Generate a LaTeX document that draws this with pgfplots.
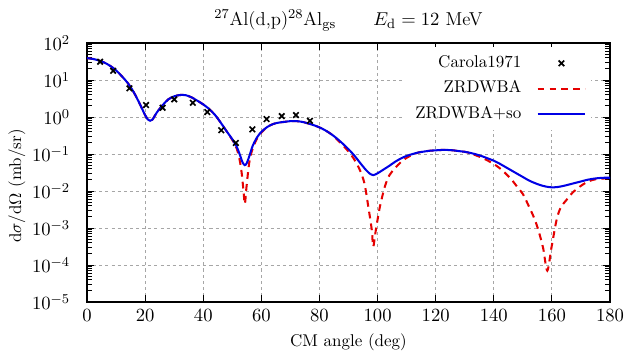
\documentclass[border=0pt]{standalone}
\usepackage{pgfplots}
\pgfplotsset{compat=1.18}
\pgfplotsset{
  lineleg/.style={legend image code/.code={\draw[##1] (0pt,0pt) -- (28pt,0pt);}},
  markleg/.style={legend image code/.code={\draw[##1] plot coordinates {(14pt,0pt)};}},
}
\begin{document}
\begin{tikzpicture}
\begin{axis}[
  scale only axis, width=307.6pt, height=152.4pt,
  at={(0,0)}, anchor=south west,
  xmin=0, xmax=180, ymode=log, ymin=1e-5, ymax=1e2,
  xtick={0,20,...,180}, ytick={1e-5,1e-4,1e-3,1e-2,1e-1,1,10,100},
  axis line style={line width=1pt, black},
  every tick/.style={black, line width=0.6pt},
  grid=major,
  major grid style={gray!70, line width=0.6pt, dash pattern=on 1.8pt off 1.8pt},
  tick label style={font=\fontsize{11}{13}\selectfont},
  xticklabel style={yshift=-1pt},
  yticklabel style={xshift=-6.5pt},
  xlabel={CM angle (deg)},
  xlabel style={at={(axis description cs:0.5,0)}, anchor=base, yshift=-25.9pt},
  ylabel={$\mathrm{d}\sigma/\mathrm{d}\Omega\ (\mathrm{mb/sr})$},
  ylabel style={at={(axis description cs:-0.134,0.448)}, anchor=center},
  title={$^{27}$Al(d,p)$^{28}$Al$_{\mathrm{gs}}$\hspace{2em}$E_{\mathrm{d}}=12$ MeV},
  title style={at={(axis description cs:0.5,1)}, anchor=base, yshift=4.3pt,
    font=\fontsize{11}{13}\selectfont},
  legend plot pos=right,
  legend cell align=right,
  legend style={at={(axis description cs:0.965,0.985)}, anchor=north east,
    draw=none, fill=white, column sep=6pt,
    nodes={text height=7pt, text depth=2pt, inner sep=2.95pt}},
]
\addplot[only marks, mark=x, mark size=2.3pt, line width=1pt, black, markleg]
  coordinates {
  (4.5,31.2) (9.0,17.8) (14.6,5.97) (20.3,2.11) (26.0,1.78) (30.0,3.0)
  (36.4,2.43) (41.4,1.36) (46.2,0.44) (51.2,0.20) (56.9,0.465) (61.8,0.88)
  (67.0,1.06) (71.9,1.13) (76.7,0.79)
  };
\addlegendentry{Carola1971}
\addplot[smooth, tension=0.5, red!90!black, line width=1.2pt, dash pattern=on 4pt off 3pt, lineleg]
  coordinates {
  (0,38.9) (2,37.2) (4,33.9) (6,29.5) (8,24.0) (10,18.2) (12,12.6) (14,8.32)
  (16,4.79) (18,2.40) (20,1.12) (21,0.851) (21.7,0.794) (22.5,0.851) (24,1.32)
  (26,2.09) (28,3.02) (30,3.63) (32,3.94) (34,3.89) (36,3.39) (38,2.75)
  (40,2.19) (42,1.66) (44,1.15) (46,0.708) (48,0.417)
  (50,0.240) (51.5,0.141) (52.5,0.0708) (53.2,0.0316) (53.8,0.0112) (54.3,0.00447)
  (54.8,0.0112) (55.4,0.0316) (56,0.0708) (57,0.141) (58.5,0.263) (60,0.380)
  (62,0.537) (64,0.646) (66,0.708) (68,0.741) (70,0.776) (72,0.776) (74,0.741)
  (76,0.676) (78,0.603) (80,0.525) (82,0.437) (84,0.347)
  (86,0.251) (88,0.174) (90,0.117) (92,0.0708) (94,0.0355) (95.5,0.0158)
  (96.8,0.00380) (98,8.91e-4) (98.5,3.16e-4) (99.4,8.91e-4) (100.8,0.00380)
  (102.5,0.0132) (104,0.0263) (106,0.0417) (108,0.0603) (110,0.0794) (112,0.0955)
  (114,0.110) (116,0.117) (118,0.123) (120,0.126) (122,0.129) (124,0.129)
  (126,0.126) (128,0.120) (130,0.115)
  (132,0.105) (134,0.0912) (136,0.0794) (138,0.0661) (140,0.0537) (142,0.0417)
  (144,0.0302) (146,0.0209) (148,0.0132) (150,0.00832) (152,0.00398) (154,0.00178)
  (155.5,7.94e-4) (157,2.82e-4) (158.4,7.08e-5) (159.9,3.16e-4) (161.6,0.00166)
  (163,0.00355) (165,0.00575) (167,0.00891) (169.6,0.0132) (172,0.0174)
  (174,0.0200) (176,0.0214) (178,0.0219) (180,0.0224)
  };
\addlegendentry{ZRDWBA}
\addplot[smooth, tension=0.5, blue!90!black, line width=1.2pt, lineleg]
  coordinates {
  (0,38.9) (2,37.2) (4,33.9) (6,29.5) (8,24.0) (10,18.2) (12,12.6) (14,8.32)
  (16,4.79) (18,2.40) (20,1.12) (21,0.851) (21.7,0.794) (22.5,0.851) (24,1.32)
  (26,2.09) (28,3.02) (30,3.63) (32,3.94) (34,3.89) (36,3.39) (38,2.75)
  (40,2.19) (42,1.66) (44,1.15) (46,0.708) (48,0.417) (50,0.251) (51.5,0.158)
  (52.5,0.100) (53.5,0.0603) (54.3,0.0501) (55,0.0575) (56,0.0955) (57,0.166)
  (58.5,0.282) (60,0.398) (62,0.537) (64,0.646) (66,0.708) (68,0.741) (70,0.776)
  (72,0.776) (74,0.741) (76,0.676) (78,0.603) (80,0.525) (82,0.437) (84,0.347)
  (86,0.263) (88,0.191) (90,0.135) (92,0.0912) (94,0.0575) (96,0.0372)
  (97.5,0.0288) (98.5,0.0269) (100,0.0302) (102,0.0380) (104,0.0479) (106,0.0617)
  (108,0.0759) (110,0.0891) (112,0.100) (114,0.110) (116,0.117) (118,0.123)
  (120,0.126) (122,0.129) (124,0.129) (126,0.126) (128,0.120) (130,0.115)
  (132,0.107) (134,0.0977) (136,0.0871) (138,0.0759) (140,0.0661) (142,0.0550)
  (144,0.0447) (146,0.0363) (148,0.0295) (150,0.0240) (152,0.0195) (154,0.0166)
  (156,0.0145) (158,0.0132) (160,0.0126) (162,0.0129) (164,0.0138) (166,0.0151)
  (168,0.0166) (170,0.0182) (172,0.0200) (174,0.0214) (176,0.0224) (178,0.0229)
  (180,0.0229)
  };
\addlegendentry{ZRDWBA$+$so}
\end{axis}
\pgfresetboundingbox
\path[use as bounding box] (-51.2pt,-32.9pt) rectangle (316.4pt,177.7pt);
\end{tikzpicture}
\end{document}
